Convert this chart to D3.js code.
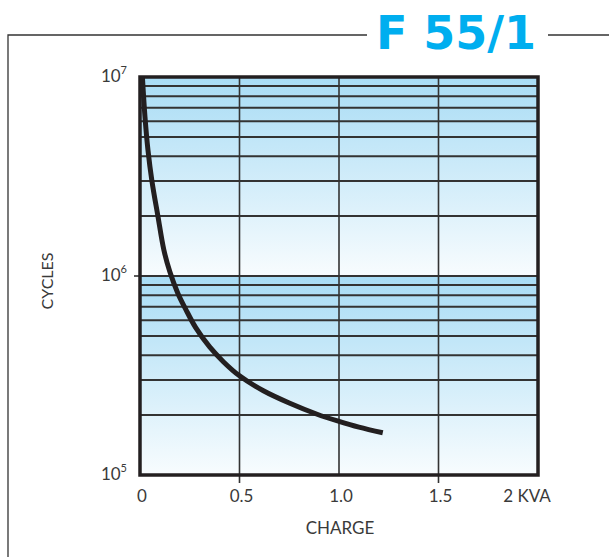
<!DOCTYPE html>
<html lang="en">
<head>
    <meta charset="UTF-8">
    <title>F 55/1</title>
    <script src="https://d3js.org/d3.v7.min.js"></script>
    <style>
        body { margin: 0; background: #fff; }
    </style>
</head>
<body>
<svg id="chart"></svg>

<script>
    // Curve
    let charge = [0.012, 0.025, 0.04, 0.06, 0.09, 0.12, 0.15, 0.19, 0.23, 0.28, 0.35, 0.42, 0.50, 0.62, 0.75, 0.89, 1.00, 1.10, 1.22];
    let cycles = [1e7, 6.3e6, 4.3e6, 3e6, 2e6, 1.35e6, 1.05e6, 8.2e5, 6.8e5, 5.5e5, 4.4e5, 3.7e5, 3.15e5, 2.65e5, 2.3e5, 2.02e5, 1.86e5, 1.74e5, 1.63e5];

    let xTicks = [0, 0.5, 1, 1.5, 2];
    let xTickLabels = ["0", "0.5", "1.0", "1.5", "2 KVA"];
    let yDecades = [1e5, 1e6, 1e7];
    let yExponents = ["5", "6", "7"];

    let width = 609, height = 557;
    let plotLeft = 140, plotRight = 538, plotTop = 77, plotBottom = 475;

    let svg = d3.select("#chart")
        .attr("width", width)
        .attr("height", height);

    let x = d3.scaleLinear().domain([0, 2]).range([plotLeft, plotRight]);
    let y = d3.scaleLog().domain([1e5, 1e7]).range([plotBottom, plotTop]);

    // gradient for each decade band
    let defs = svg.append("defs");
    let grad = defs.append("linearGradient")
        .attr("id", "band")
        .attr("x1", 0).attr("y1", 0).attr("x2", 0).attr("y2", 1);
    grad.append("stop").attr("offset", "0%").attr("stop-color", "#a8dcf5");
    grad.append("stop").attr("offset", "100%").attr("stop-color", "#f8fcfe");

    // outer frame
    svg.append("path")
        .attr("d", "M8,557 L8,35 L367,35 M548,35 L609,35")
        .attr("fill", "none")
        .attr("stroke", "#333")
        .attr("stroke-width", 1.3);

    svg.append("text")
        .attr("x", 376)
        .attr("y", 49)
        .attr("textLength", 160)
        .attr("lengthAdjust", "spacing")
        .style("font-family", "DejaVu Sans")
        .style("font-weight", "bold")
        .style("font-size", "46px")
        .attr("fill", "#00aeef")
        .text("F 55/1");

    // decade bands
    svg.selectAll(".band")
        .data(yDecades.slice(0, 2))
        .enter().append("rect")
        .attr("x", plotLeft)
        .attr("y", function (d) { return y(d * 10); })
        .attr("width", plotRight - plotLeft)
        .attr("height", function (d) { return y(d) - y(d * 10); })
        .attr("fill", "url(#band)");

    // minor horizontal grid lines (2..10 in each decade)
    let minor = [];
    yDecades.slice(0, 2).forEach(function (d) {
        for (let k = 2; k <= 10; k++) minor.push(d * k);
    });
    svg.selectAll(".hgrid")
        .data(minor)
        .enter().append("line")
        .attr("x1", plotLeft).attr("x2", plotRight)
        .attr("y1", function (d) { return y(d); })
        .attr("y2", function (d) { return y(d); })
        .attr("stroke", "#333")
        .attr("stroke-width", 2);

    // vertical grid lines
    svg.selectAll(".vgrid")
        .data(xTicks.slice(1, 4))
        .enter().append("line")
        .attr("x1", function (d) { return x(d); })
        .attr("x2", function (d) { return x(d); })
        .attr("y1", plotTop)
        .attr("y2", function (d) { return d === 1 ? plotBottom : plotBottom + 8; })
        .attr("stroke", "#333")
        .attr("stroke-width", 1.6);

    // small tick at 10^6
    svg.append("line")
        .attr("x1", plotLeft - 6).attr("x2", plotLeft)
        .attr("y1", y(1e6)).attr("y2", y(1e6))
        .attr("stroke", "#333")
        .attr("stroke-width", 1.6);

    // plot border
    svg.append("rect")
        .attr("x", plotLeft)
        .attr("y", plotTop)
        .attr("width", plotRight - plotLeft)
        .attr("height", plotBottom - plotTop)
        .attr("fill", "none")
        .attr("stroke", "#231f20")
        .attr("stroke-width", 3.5);

    // curve
    let line = d3.line()
        .x(function (d) { return x(d[0]); })
        .y(function (d) { return y(d[1]); })
        .curve(d3.curveCatmullRom.alpha(0.5));

    svg.append("path")
        .datum(d3.zip(charge, cycles))
        .attr("d", line)
        .attr("fill", "none")
        .attr("stroke", "#231f20")
        .attr("stroke-width", 5);

    // y tick labels
    let yl = svg.selectAll(".ylab")
        .data(yDecades)
        .enter().append("text")
        .attr("x", 127)
        .attr("y", function (d) { return y(d) + 5; })
        .attr("text-anchor", "end")
        .style("font-family", "Lato")
        .style("font-size", "17px")
        .attr("fill", "#3a3a3a");
    yl.append("tspan").text("10");
    yl.append("tspan")
        .attr("dy", -8)
        .style("font-size", "11px")
        .text(function (d, i) { return yExponents[i]; });

    // x tick labels
    svg.selectAll(".xlab")
        .data(xTicks)
        .enter().append("text")
        .attr("x", function (d, i) { return x(d) + (i === 4 ? -11 : 2); })
        .attr("y", 502)
        .attr("text-anchor", "middle")
        .style("font-family", "Lato")
        .style("font-size", "17px")
        .attr("fill", "#3a3a3a")
        .text(function (d, i) { return xTickLabels[i]; });

    // axis titles
    svg.append("text")
        .attr("x", 340)
        .attr("y", 534)
        .attr("text-anchor", "middle")
        .style("font-family", "Lato")
        .style("font-size", "17px")
        .attr("fill", "#3a3a3a")
        .text("CHARGE");

    svg.append("text")
        .attr("transform", "translate(53,281) rotate(-90)")
        .attr("text-anchor", "middle")
        .style("font-family", "Lato")
        .style("font-size", "16px")
        .attr("fill", "#3a3a3a")
        .text("CYCLES");
</script>
</body>
</html>
